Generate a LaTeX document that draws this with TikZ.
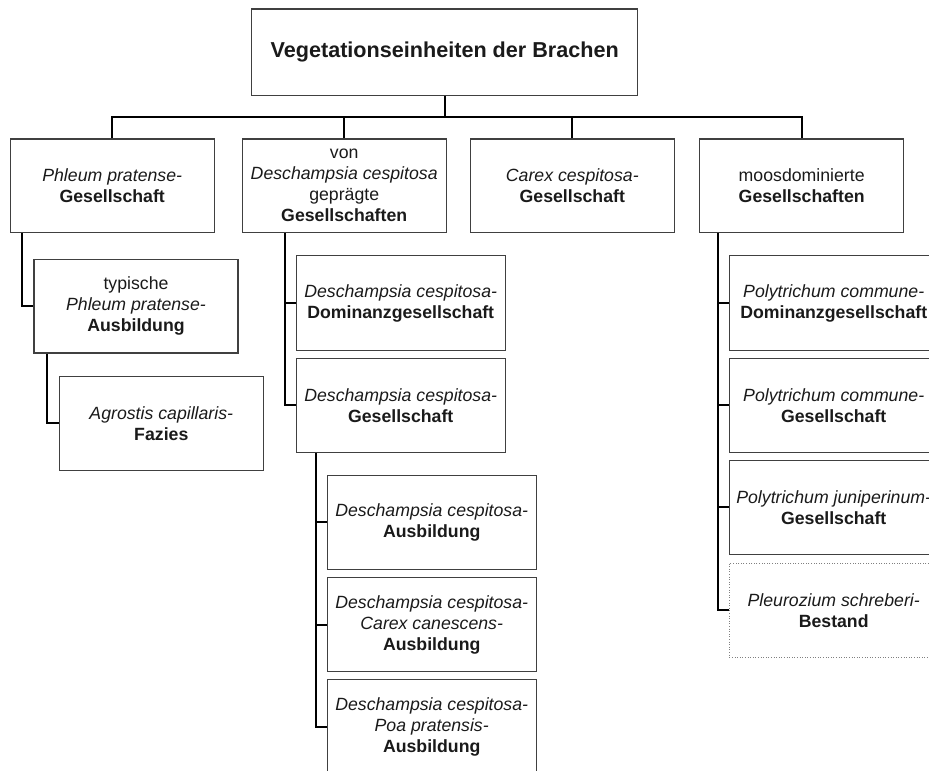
\documentclass[tikz,border=0pt]{standalone}
\usepackage{fontspec}
\setmainfont{Liberation Sans}
\definecolor{txt}{HTML}{1A1A1A}
\definecolor{boxline}{HTML}{404040}
\tikzset{
  unit/.style={draw=boxline, line width=1.1pt, rectangle, inner sep=0pt, align=center,
    text=txt, font=\fontsize{17.7pt}{21pt}\selectfont,
    minimum width=204pt, minimum height=93.5pt},
  wide/.style={unit, minimum width=208.7pt, minimum height=94.3pt},
  dottedunit/.style={wide, draw=gray, line width=0.9pt, dash pattern=on 1pt off 1.6pt},
  titlebox/.style={unit, font=\fontsize{21.6pt}{25pt}\selectfont\bfseries,
    minimum width=386pt, minimum height=86.7pt},
  link/.style={draw=black, line width=2pt}
}
\begin{document}
\begin{tikzpicture}[x=1pt,y=-1pt]
\useasboundingbox (0,0) rectangle (929,771);
\clip (0,0) rectangle (929,771);
% top
\node[titlebox] (top) at (444.7,52.3) {Vegetationseinheiten der Brachen};
% level 1
\node[unit] (phleum) at (112.2,185.7) {\textit{Phleum pratense-}\\\textbf{Gesellschaft}};
\node[unit] (von) at (344.2,185.7) {von\\\textit{Deschampsia cespitosa}\\geprägte\\\textbf{Gesellschaften}};
\node[unit] (carex) at (572.3,185.7) {\textit{Carex cespitosa-}\\\textbf{Gesellschaft}};
\node[unit] (moos) at (801.7,185.7) {moosdominierte\\\textbf{Gesellschaften}};
% Phleum branch
\node[unit] (typ) at (136,306.2) {typische\\\textit{Phleum pratense-}\\\textbf{Ausbildung}};
\node[unit] (agro) at (161.3,423.3) {\textit{Agrostis capillaris-}\\\textbf{Fazies}};
% Deschampsia branch
\node[wide] (dom) at (400.7,303) {\textit{Deschampsia cespitosa-}\\\textbf{Dominanzgesellschaft}};
\node[wide] (dgs) at (400.7,405.3) {\textit{Deschampsia cespitosa-}\\\textbf{Gesellschaft}};
\node[wide] (a1) at (431.7,522.2) {\textit{Deschampsia cespitosa-}\\\textbf{Ausbildung}};
\node[wide] (a2) at (431.7,624.5) {\textit{Deschampsia cespitosa-}\\\textit{Carex canescens-}\\\textbf{Ausbildung}};
\node[wide] (a3) at (431.7,726.5) {\textit{Deschampsia cespitosa-}\\\textit{Poa pratensis-}\\\textbf{Ausbildung}};
% moss branch
\node[wide] (p1) at (833.7,303) {\textit{Polytrichum commune-}\\\textbf{Dominanzgesellschaft}};
\node[wide] (p2) at (833.7,405.3) {\textit{Polytrichum commune-}\\\textbf{Gesellschaft}};
\node[wide] (p3) at (833.7,507.3) {\textit{Polytrichum juniperinum-}\\\textbf{Gesellschaft}};
\node[dottedunit] (p4) at (833.7,610.3) {\textit{Pleurozium schreberi-}\\\textbf{Bestand}};
% branch coordinates
\coordinate (bar) at (0,116.7);
\coordinate (xph) at (22.3,0);
\coordinate (xtyp) at (47,0);
\coordinate (xvon) at (285,0);
\coordinate (xdgs) at (316,0);
\coordinate (xmoos) at (718.3,0);
% connectors
\draw[link] (top.south) -- (top.south |- bar);
\draw[link] (phleum.north) -- (phleum.north |- bar) -- (moos.north |- bar) -- (moos.north);
\draw[link] (von.north) -- (von.north |- bar);
\draw[link] (carex.north) -- (carex.north |- bar);
\draw[link] (phleum.south -| xph) |- (typ.west);
\draw[link] (typ.south -| xtyp) |- (agro.west);
\draw[link] (von.south -| xvon) |- (dgs.west);
\draw[link] (xvon |- dom.west) -- (dom.west);
\draw[link] (dgs.south -| xdgs) |- (a3.west);
\draw[link] (xdgs |- a1.west) -- (a1.west);
\draw[link] (xdgs |- a2.west) -- (a2.west);
\draw[link] (moos.south -| xmoos) |- (p4.west);
\draw[link] (xmoos |- p1.west) -- (p1.west);
\draw[link] (xmoos |- p2.west) -- (p2.west);
\draw[link] (xmoos |- p3.west) -- (p3.west);
\end{tikzpicture}
\end{document}
